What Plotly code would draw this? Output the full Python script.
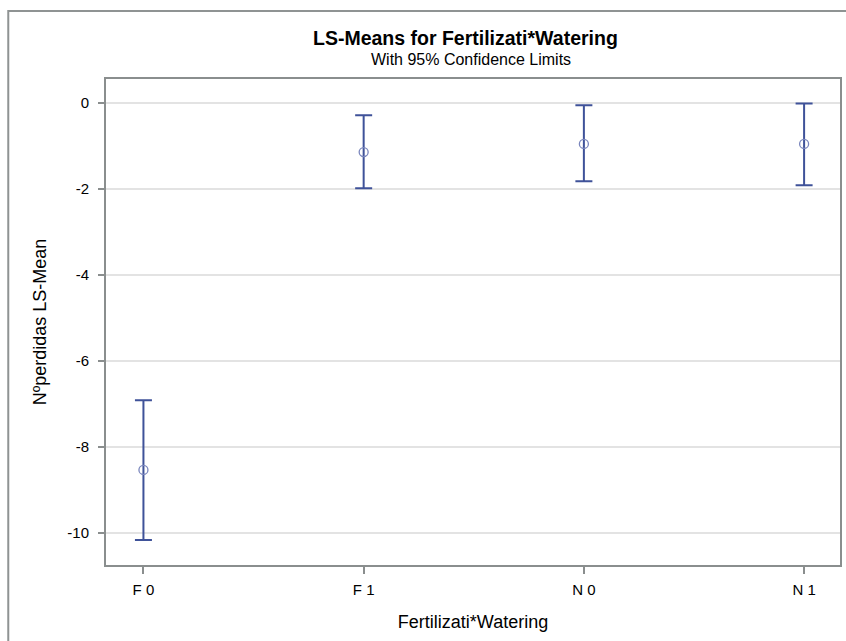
import plotly.graph_objects as go

# LS-means with 95% confidence limits by Fertilizati*Watering level
levels = ["F 0", "F 1", "N 0", "N 1"]
ls_mean = [-8.53, -1.14, -0.95, -0.95]
lower_cl = [-10.16, -1.98, -1.82, -1.91]
upper_cl = [-6.91, -0.28, -0.05, -0.01]
y_ticks = [0, -2, -4, -6, -8, -10]

W, H = 846, 641
L, R, T, B = 106, 4, 79, 76
pw, ph = W - L - R, H - T - B

def px_x(x):
    return (x - L) / pw

def px_y(y):
    return (H - B - y) / ph

line_col = "#3f5299"
marker_col = "#7a86bd"
axis_col = "#8a8e8e"
grid_col = "#e3e3e3"
font_main = "Liberation Sans, Arial, sans-serif"

fig = go.Figure()
fig.add_trace(go.Scatter(
    x=levels,
    y=ls_mean,
    mode="markers",
    marker=dict(symbol="circle-open", size=9, color=marker_col, line=dict(width=1.3)),
    error_y=dict(
        type="data",
        symmetric=False,
        array=[u - m for u, m in zip(upper_cl, ls_mean)],
        arrayminus=[m - l for m, l in zip(ls_mean, lower_cl)],
        color=line_col,
        thickness=2,
        width=8.5,
    ),
    showlegend=False,
    hoverinfo="skip",
))

fig.update_layout(
    width=W, height=H,
    margin=dict(l=L, r=R, t=T, b=B, pad=0),
    paper_bgcolor="white",
    plot_bgcolor="white",
    font=dict(family=font_main, color="#000000"),
    xaxis=dict(
        type="category",
        categoryorder="array",
        categoryarray=levels,
        range=[-0.17, 3.163],
        showgrid=False,
        zeroline=False,
        showline=True, linecolor=axis_col, linewidth=2, mirror=True,
        ticks="outside", ticklen=7, tickwidth=2, tickcolor=axis_col,
        ticklabelstandoff=3,
        tickfont=dict(size=15, family=font_main),
        title=dict(text="Fertilizati*Watering", font=dict(size=18, family=font_main), standoff=18),
    ),
    yaxis=dict(
        range=[-10.74, 0.56],
        tickvals=y_ticks,
        ticktext=[str(v) for v in y_ticks],
        showgrid=True, gridcolor=grid_col, gridwidth=2,
        zeroline=False,
        showline=True, linecolor=axis_col, linewidth=2, mirror=True,
        ticks="outside", ticklen=6, tickwidth=2, tickcolor=axis_col,
        ticklabelstandoff=6,
        tickfont=dict(size=15, family=font_main),
        title=dict(text="Nºperdidas LS-Mean", font=dict(size=18, family=font_main), standoff=16),
    ),
    annotations=[
        dict(text="<b>LS-Means for Fertilizati*Watering</b>", xref="paper", yref="paper",
             x=px_x(466), y=px_y(38), xanchor="center", yanchor="middle", showarrow=False,
             font=dict(size=19.5, family=font_main, color="#000000")),
        dict(text="With 95% Confidence Limits", xref="paper", yref="paper",
             x=px_x(472), y=px_y(60), xanchor="center", yanchor="middle", showarrow=False,
             font=dict(size=16, family=font_main, color="#000000")),
    ],
    shapes=[
        # outer graph frame
        dict(type="rect", xref="paper", yref="paper",
             x0=px_x(8), y0=px_y(700), x1=px_x(930), y1=px_y(11),
             line=dict(color="#8f9393", width=2), fillcolor="rgba(0,0,0,0)", layer="above"),
    ],
)

fig.write_html("out.html")
